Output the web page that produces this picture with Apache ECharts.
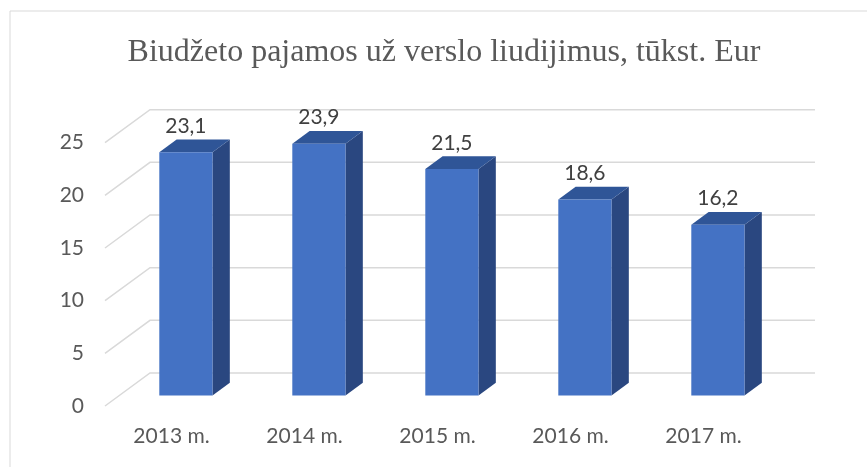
<!DOCTYPE html>
<html>
<head>
    <meta charset="utf-8">
    <title>Biudžeto pajamos</title>
    <script src="https://cdn.jsdelivr.net/npm/echarts@6.0.0/dist/echarts.min.js"></script>
    <style>
        body { margin: 0; background: #fff; }
        #chart { width: 867px; height: 467px; }
    </style>
</head>
<body>
    <div id="chart"></div>
    <script>
        // chart data
        const years = ['2013 m.', '2014 m.', '2015 m.', '2016 m.', '2017 m.'];
        const revenue = [23.1, 23.9, 21.5, 18.6, 16.2];
        const yTicks = [0, 5, 10, 15, 20, 25];

        // fake 3D depth (pixels) of the walls and of the bars inside them
        const DX = 45, DY = 33;
        const F1 = 0.32, F2 = 0.705;

        const chart = echarts.init(document.getElementById('chart'));

        function renderWall(params, api) {
            const cs = params.coordSys;
            const y = api.coord([0, api.value(1)])[1];
            return {
                type: 'polyline',
                shape: { points: [[cs.x, y], [cs.x + DX, y - DY], [cs.x + cs.width + DX, y - DY]] },
                style: { stroke: '#D9D9D9', lineWidth: 1.5, fill: null }
            };
        }

        function renderBar(params, api) {
            const idx = api.value(0);
            const top = api.coord([idx, api.value(1)]);
            const base = api.coord([idx, 0]);
            const w = api.size([1, 0])[0] * 0.4;
            const x0 = top[0] + F1 * DX - w / 2, x1 = x0 + w;
            const yT = top[1] - F1 * DY, yB = base[1] - F1 * DY;
            const ddx = (F2 - F1) * DX, ddy = (F2 - F1) * DY;
            return {
                type: 'group',
                children: [
                    { type: 'polygon', shape: { points: [[x1, yT], [x1 + ddx, yT - ddy], [x1 + ddx, yB - ddy], [x1, yB]] },
                      style: { fill: '#2A4780' } },
                    { type: 'polygon', shape: { points: [[x0, yT], [x0 + ddx, yT - ddy], [x1 + ddx, yT - ddy], [x1, yT]] },
                      style: { fill: '#2F5597' } },
                    { type: 'rect', shape: { x: x0, y: yT, width: w, height: yB - yT },
                      style: { fill: '#4472C4' } },
                    { type: 'text', x: (x0 + x1) / 2, y: yT - ddy - 3,
                      style: { text: String(api.value(1)).replace('.', ','), fill: '#404040',
                               font: '21px Lato', align: 'center', verticalAlign: 'bottom' } }
                ]
            };
        }

        chart.setOption({
            animation: false,
            title: {
                text: 'Biudžeto pajamos už verslo liudijimus, tūkst. Eur',
                left: 444, top: 37, padding: 0, textAlign: 'center',
                textStyle: { fontFamily: 'Liberation Serif', fontSize: 32, fontWeight: 'normal', color: '#595959' }
            },
            graphic: [{
                type: 'rect', shape: { x: 10, y: 11, width: 900, height: 500 },
                style: { fill: null, stroke: '#D9D9D9', lineWidth: 1 }, silent: true
            }],
            grid: { left: 105, right: 97, top: 142.7, bottom: 61 },
            xAxis: {
                type: 'category', data: years,
                axisLine: { show: false }, axisTick: { show: false },
                axisLabel: { color: '#595959', fontFamily: 'Lato', fontSize: 21, margin: 20 }
            },
            yAxis: {
                type: 'value', min: 0, max: 25, interval: 5,
                splitLine: { show: false }, axisLine: { show: false }, axisTick: { show: false },
                axisLabel: { color: '#595959', fontFamily: 'Lato', fontSize: 21, margin: 21 }
            },
            series: [
                {
                    type: 'custom', renderItem: renderWall, silent: true,
                    data: yTicks.map(v => [0, v])
                },
                {
                    type: 'custom', renderItem: renderBar,
                    data: revenue.map((v, i) => [i, v])
                }
            ]
        });
    </script>
</body>
</html>
